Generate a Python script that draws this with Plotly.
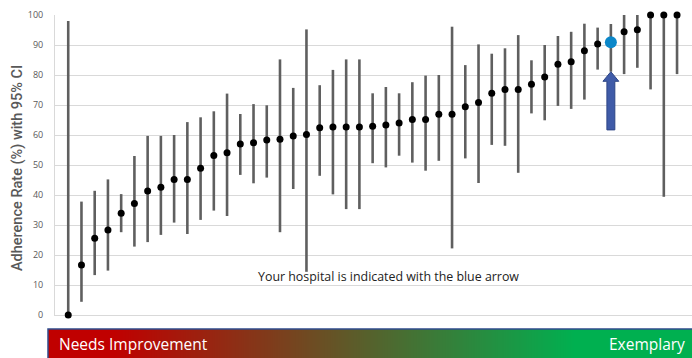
import plotly.graph_objects as go

rate = [0, 16.7, 25.6, 28.3, 33.9, 37.2, 41.3, 42.6, 45.2, 45.2, 48.9, 53.2, 54.1, 57.0, 57.4,
        58.3, 58.6, 59.7, 60.2, 62.4, 62.7, 62.7, 62.7, 62.9, 63.3, 64.0, 65.2, 65.2, 66.9, 66.9,
        69.4, 70.8, 73.9, 75.2, 75.2, 76.9, 79.3, 83.6, 84.4, 88.1, 90.3, 90.9, 94.4, 95.1, 100, 100, 100]
upper = [98, 37.8, 41.4, 45.2, 40.3, 53, 59.7, 59.7, 60, 64.3, 65.9, 67.9, 73.8, 67, 70.3,
         69.9, 85.2, 75.7, 95.2, 76.6, 81.7, 85.2, 85.2, 73.9, 76, 73.9, 77.6, 79.8, 80, 96.1,
         83.3, 90.2, 87.1, 88.9, 93.3, 84.9, 90, 93, 94.4, 97.1, 95.8, 97, 100, 100, 100, 100, 100]
lower = [0, 4.4, 13.3, 14.8, 27.6, 22.8, 24.3, 26.7, 30.8, 27, 31.7, 34.8, 33, 46.7, 43.9,
         45.8, 27.6, 42, 14.4, 46.4, 40.2, 35.3, 35.3, 50.6, 49.2, 53.1, 50.8, 48.1, 51.4, 22.2,
         52.2, 44, 56.7, 56.4, 47.4, 67.2, 64.9, 69.7, 68.7, 71.8, 81.8, 81.1, 80.3, 82.4, 75.2, 39.4, 80.3]
hospital_index = 41
arrow_base = 61.7
y_ticks = [0, 10, 20, 30, 40, 50, 60, 70, 80, 90, 100]
y_title = "Adherence Rate (%) with 95% CI"
note = "Your hospital is indicated with the blue arrow"
scale_left = "Needs Improvement"
scale_right = "Exemplary"

x = list(range(len(rate)))
err_plus = [u - r for u, r in zip(upper, rate)]
err_minus = [r - l for r, l in zip(rate, lower)]

fig = go.Figure()

fig.add_trace(go.Scatter(
    x=x, y=rate, mode="markers",
    marker=dict(color="black", size=7),
    error_y=dict(type="data", symmetric=False, array=err_plus, arrayminus=err_minus,
                 color="#5f5f5f", thickness=2.6, width=0),
    cliponaxis=False, showlegend=False, hoverinfo="skip"))

fig.add_trace(go.Scatter(
    x=[hospital_index], y=[rate[hospital_index]], mode="markers",
    marker=dict(color="#0B87C9", size=12), cliponaxis=False, showlegend=False))

# gradient scale bar
n = 200
fig.add_trace(go.Heatmap(
    z=[list(range(n))], x=list(range(n)), y=[0],
    colorscale=[[0, "#C00000"], [0.1, "#C00000"], [0.82, "#00B050"], [1, "#00B050"]],
    showscale=False, xaxis="x2", yaxis="y2", zsmooth="best", hoverinfo="skip"))

# block arrow built from the hospital data
hx = hospital_index
tip = lower[hospital_index]
hw, sw, hl = 0.6, 0.3, 3.2
path = (f"M {hx - sw} {arrow_base} L {hx - sw} {tip - hl} L {hx - hw} {tip - hl} "
        f"L {hx} {tip} L {hx + hw} {tip - hl} L {hx + sw} {tip - hl} L {hx + sw} {arrow_base} Z")
fig.add_shape(type="path", path=path, xref="x", yref="y",
              fillcolor="#3F5BA8", line=dict(color="#2E4685", width=1))

fig.add_shape(type="rect", xref="paper", yref="paper", x0=0, x1=1.01, y0=-0.01, y1=29 / 343,
              line=dict(color="#2F4B8C", width=1.5), fillcolor="rgba(0,0,0,0)")

fig.add_annotation(x=24.2, y=12.8, xref="x", yref="y", text=note, showarrow=False,
                   font=dict(family="Open Sans", size=12.4, color="#222"))
fig.add_annotation(x=(18 - 48) / 644, y=(358 - 168) / 343, xref="paper", yref="paper",
                   text=y_title, textangle=-90, showarrow=False,
                   xanchor="center", yanchor="middle",
                   font=dict(family="Roboto", size=14.5, color="#595959", weight=500))
fig.add_annotation(x=(57 - 48) / 644, y=14.5 / 343, xref="paper", yref="paper",
                   text=scale_left, showarrow=False, xanchor="left", yanchor="middle",
                   font=dict(family="Open Sans", size=15.5, color="white"))
fig.add_annotation(x=(687 - 48) / 644, y=14.5 / 343, xref="paper", yref="paper",
                   text=scale_right, showarrow=False, xanchor="right", yanchor="middle",
                   font=dict(family="Open Sans", size=15.5, color="white"))

fig.update_layout(
    width=692, height=358,
    margin=dict(l=48, r=0, t=15, b=0),
    paper_bgcolor="white", plot_bgcolor="white",
    xaxis=dict(domain=[(55 - 48) / 644, 1], range=[-1, 47.13], showticklabels=False,
               showgrid=False, zeroline=False, showline=True, linecolor="#d9d9d9",
               mirror=False, ticks="", layer="below traces"),
    yaxis=dict(domain=[43 / 343, 1], range=[0, 100], tickvals=y_ticks,
               gridcolor="#d9d9d9", gridwidth=1, zeroline=False, showline=True,
               linecolor="#d9d9d9", layer="below traces",
               tickfont=dict(family="Open Sans", size=9, color="#595959"),
               ticklabelstandoff=9, automargin=False),
    xaxis2=dict(domain=[0, 1], anchor="y2", visible=False, range=[-0.5, n - 0.5]),
    yaxis2=dict(domain=[0, 29 / 343], anchor="x2", visible=False, range=[-0.5, 0.5]),
)

fig.write_html("out.html", config={"displayModeBar": False},
               post_script="document.body.style.margin='0';")
